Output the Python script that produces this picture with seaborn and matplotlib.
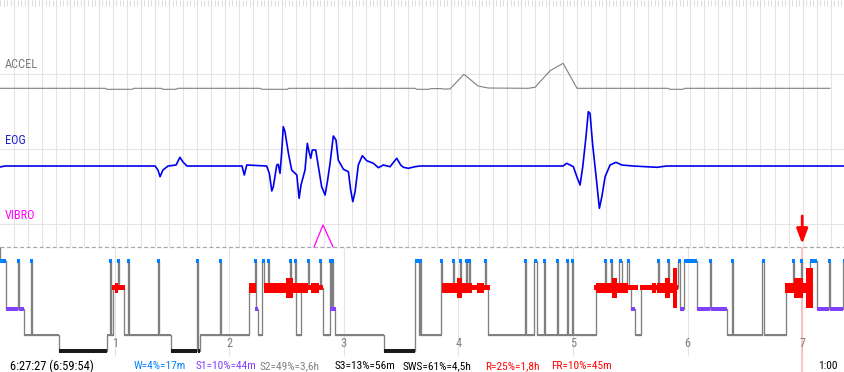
import numpy as np
import matplotlib
matplotlib.use("Agg")
import matplotlib.pyplot as plt
import seaborn as sns

# time axis: minutes from the start of the recording
T_END = 442.4

# ACCEL channel (amplitude in px above its baseline)
accel_t = [0, 55.0, 56.0, 69.1, 70.2, 84.3, 85.3, 92.2, 93.2, 136.1, 137.2, 150.3, 151.3,
           217.3, 218.3, 224.6, 225.7, 230.9, 232.0, 235.6, 242.9, 250.3, 255.5, 276.5,
           280.1, 288.0, 294.8, 302.1, 349.8, 350.8, 357.6, 358.7, 434.6]
accel_v = [0, 0, -1, -1, 0, 0, -1, -1, 0, 0, -1, -1, 0,
           0, -1, -1, -0.3, -0.3, -0.7, -0.7, 14, 2.3, 0.3, 0,
           1, 17.6, 25, 0, 0, -1, -1, 0, 0]

# EOG channel
eog_t = [0, 2.6, 81.2, 82.7, 83.8, 85.3, 88.0, 92.2, 94.2, 95.8, 97.9, 126.7, 127.9, 129.2,
         139.6, 141.0, 142.3, 143.1, 144.9, 145.7, 146.6, 147.5, 148.3, 149.2, 151.0, 152.7,
         155.4, 156.6, 157.6, 159.7, 160.9, 161.8, 162.7, 163.5, 165.3, 166.7, 168.4, 170.2,
         171.4, 172.8, 174.5, 175.9, 177.1, 179.8, 182.4, 183.6, 184.7, 185.9, 187.6, 189.7,
         192.0, 195.5, 198.1, 200.7, 204.2, 207.7, 209.8, 211.2, 213.8, 217.3, 219.9, 294.8,
         296.7, 300.2, 302.0, 303.7, 305.1, 306.8, 308.0, 308.9, 310.3, 312.1, 313.8, 315.1,
         316.8, 319.4, 322.5, 325.5, 331.4, 343.9, 349.1, 442.4]
eog_v = [-1, 0, 0, -4, -10.7, -4, 0, 1, 8.7, 4, 0, 0, -9, 1,
         0, -7.3, -25, -20.7, 1, 1.7, -7.3, 14.3, 39.3, 34.3, 12.7, -4,
         -9, -32.3, -19, -4, 22.7, 14.3, 7.7, 16, 16, -0.7, -20.7, -29,
         -15.7, 2.7, 30, 26, 6, -3.3, -5.7, -24, -35.7, -25.7, 1, 10.3,
         5.3, 2.7, -1.7, 1, -0.7, 7.7, 1, -1.3, -2.3, -0.7, 0, 0,
         2.7, -0.7, -10.7, -19, -0.7, 29.3, 54.3, 52.7, 21, -10.7, -42.3, -30.7,
         -10.7, 1, 3.7, 1, 0, -1.3, 0, 0]

# VIBRO channel
vibro_t = [164.4, 169.1, 174.4]
vibro_v = [0, 22, 0]

# hypnogram: start of each stage (min) and the stage
hyp_start = [0, 3.1, 9.4, 10.2, 12.6, 16.2, 16.8, 30.9,
             56.0, 57.6, 58.1, 59.2, 61.8, 62.3, 64.9, 67.0,
             67.5, 82.7, 83.3, 89.5, 103.1, 103.7, 104.7, 115.2,
             115.7, 130.4, 133.5, 134.0, 135.1, 137.2, 138.2, 140.3,
             140.8, 151.8, 152.4, 154.5, 155.0, 157.6, 161.3, 161.8,
             167.6, 168.1, 169.1, 172.8, 173.3, 173.8, 174.4, 175.4,
             201.1, 217.3, 219.4, 219.9, 220.4, 230.9, 231.4, 237.2,
             237.7, 240.9, 241.4, 244.0, 244.5, 245.6, 246.1, 253.9,
             254.5, 255.5, 274.9, 275.4, 279.6, 281.2, 284.8, 285.4,
             291.6, 292.2, 296.9, 297.4, 299.5, 300.0, 312.1, 316.8,
             317.3, 319.9, 320.4, 324.1, 325.7, 328.3, 329.3, 330.4,
             332.5, 335.6, 344.5, 345.1, 349.8, 350.3, 355.0, 356.0,
             358.1, 364.9, 371.8, 372.3, 380.7, 383.3, 383.8, 399.0,
             400.0, 411.5, 415.2, 415.7, 419.4, 419.9, 424.1, 427.8,
             434.1, 434.6, 441.4]
hyp_stage = ["W", "S1", "W", "S1", "S2", "W", "S2", "S3",
             "S2", "W", "S2", "R", "W", "R", "S2", "W",
             "S2", "W", "S2", "S3", "W", "S3", "S2", "W",
             "S2", "R", "W", "S1", "S2", "W", "R", "W",
             "R", "W", "R", "W", "S2", "R", "W", "R",
             "W", "R", "S2", "W", "S1", "W", "S1", "S2",
             "S3", "W", "S2", "W", "S2", "W", "R", "W",
             "R", "W", "R", "W", "R", "W", "R", "W",
             "R", "S2", "W", "S2", "W", "S2", "W", "S2",
             "W", "S2", "W", "S2", "W", "S2", "R", "W",
             "R", "W", "R", "W", "R", "W", "R", "S1",
             "S2", "R", "W", "R", "W", "R", "W", "S1",
             "W", "S1", "W", "S1", "S2", "W", "S2", "W",
             "S2", "R", "W", "R", "W", "R", "W", "S1",
             "W", "S1", "W"]

# REM density blocks (start, end, level 1..4)
rem_start = [58.6, 60.2, 130.4, 138.2, 149.7, 161.3, 162.8, 231.4, 231.4, 239.3, 249.8,
             311.0, 312.1, 320.4, 335.1, 341.4, 344.0, 348.2, 352.4, 411.0, 415.7, 422.0]
rem_end = [65.5, 61.6, 134.0, 161.3, 153.4, 169.1, 167.0, 256.6, 247.1, 241.9, 253.4,
           334.1, 328.8, 323.1, 355.0, 343.5, 352.4, 350.8, 354.5, 422.0, 420.4, 425.7]
rem_level = [1, 2, 2, 2, 3, 1, 2, 1, 2, 3, 2,
             1, 2, 3, 1, 2, 2, 3, 4, 2, 3, 4]

hour_pos = [60, 120, 180, 240, 300, 360, 420]
hour_labels = ["1", "2", "3", "4", "5", "6", "7"]
marker_t = 420

stats_text = ["W=4%=17m", "S1=10%=44m", "S2=49%=3,6h", "S3=13%=56m",
              "SWS=61%=4,5h", "R=25%=1,8h", "FR=10%=45m"]
stats_color = ["#0080ff", "#8040ff", "#808080", "#000000", "#000000", "#ff0000", "#ff0000"]
stats_x = [134, 196, 260, 335, 403, 485, 551]

# ---------------------------------------------------------------
sns.set_theme(style="white")
plt.rcParams["font.family"] = ["Roboto Condensed", "DejaVu Sans"]
plt.rcParams["lines.scale_dashes"] = False

W, H = 845, 372
fig = plt.figure(figsize=(W / 100, H / 100), dpi=100)
ax = fig.add_axes([0, 0, 1, 1])
ax.set_xlim(0, T_END)
ax.set_ylim(H, 0)
ax.axis("off")
mpp = T_END / W  # minutes per pixel

# grid
grid_c = "#e4e4e4"
ax.vlines(np.linspace(0, T_END, 61)[1:], 0, 247, color=grid_c, lw=0.8, zorder=0)
ax.vlines(np.linspace(0, T_END, 241), 0, 6, color="#d8d8d8", lw=0.6, zorder=0)
ax.vlines(hour_pos, 247, 356, color=grid_c, lw=0.8, zorder=0)
ax.hlines([74, 149, 224], 0, T_END, color=grid_c, lw=0.8, zorder=0)
ax.hlines(247, 0, T_END, color="#a8a8a8", lw=0.9, ls=(0, (2.9, 1.8)), zorder=1)
ax.vlines(marker_t, 247, H, color="#ffb4b4", lw=1.1, zorder=1)

# signals
ACC_Y, EOG_Y, VIB_Y = 88.3, 166, 247
sns.lineplot(x=accel_t, y=ACC_Y - np.array(accel_v), color="#808080", lw=0.8,
             estimator=None, ax=ax, zorder=3)
sns.lineplot(x=eog_t, y=EOG_Y - np.array(eog_v), color="#0000f0", lw=1.2,
             estimator=None, ax=ax, zorder=3)
sns.lineplot(x=vibro_t, y=VIB_Y - np.array(vibro_v), color="#ff00ff", lw=0.9,
             estimator=None, ax=ax, zorder=3)

# hypnogram
level = {"W": 260.8, "R": 287.7, "S1": 308.8, "S2": 334.6, "S3": 351.0}
height = {"W": 3.8, "R": 4.5, "S1": 4.0, "S2": 2.0, "S3": 3.4}
color = {"W": "#0080ff", "R": "#ff0000", "S1": "#8040ff", "S2": "#808080", "S3": "#1a1a1a"}
min_w = 3 * mpp

xs = hyp_start + [T_END]
ys = [level[s] for s in hyp_stage] + [level[hyp_stage[-1]]]
sns.lineplot(x=xs, y=ys, drawstyle="steps-post", color="#808080", lw=0.95,
             estimator=None, ax=ax, zorder=2)
ax.vlines(0, 247, level["W"], color="#808080", lw=0.95, zorder=2)

ends = hyp_start[1:] + [T_END]
for st, z in [("S2", 3), ("S3", 3), ("S1", 3), ("R", 3), ("W", 5)]:
    for s, e, g in zip(hyp_start, ends, hyp_stage):
        if g != st:
            continue
        w = e - s
        if st in ("W", "S1") and w < min_w:
            s, w = (s + e) / 2 - min_w / 2, min_w
        ax.bar(s, height[st], width=w, bottom=level[st] - height[st] / 2,
               align="edge", color=color[st], lw=0, zorder=z)

rem_h = {1: 4.5, 2: 10, 3: 20, 4: 40}
for s, e, l in zip(rem_start, rem_end, rem_level):
    ax.bar(s, rem_h[l], width=e - s, bottom=level["R"] - rem_h[l] / 2,
           align="edge", color="#ff0000", lw=0, zorder=4)

# red arrow at the marker
ax.annotate("", xy=(marker_t, 244), xytext=(marker_t, 216),
            arrowprops=dict(arrowstyle="-|>,head_width=0.28,head_length=0.75",
                            color="#ff0000", lw=2.0, shrinkA=0, shrinkB=0), zorder=6)

# texts
def ftext(x, y, s, **kw):
    fig.text(x / W, 1 - y / H, s, va="center", **kw)

ftext(5, 65, "ACCEL", color="#7a7a7a", fontsize=8.8)
ftext(5, 140, "EOG", color="#2020d0", fontsize=8.8)
ftext(5, 215, "VIBRO", color="#ff00ff", fontsize=8.8)
for hp, hl in zip(hour_pos, hour_labels):
    ax.text(hp, 343.5, hl, color="#808080", fontsize=8.8, ha="center", va="center")
ftext(10, 366, "6:27:27 (6:59:54)", color="#000000", fontsize=9)
for s, c, x in zip(stats_text, stats_color, stats_x):
    ftext(x, 366, s, color=c, fontsize=8.2)
ftext(818, 366, "1:00", color="#000000", fontsize=8.2)

fig.savefig("out.png", dpi=100, facecolor="white")
